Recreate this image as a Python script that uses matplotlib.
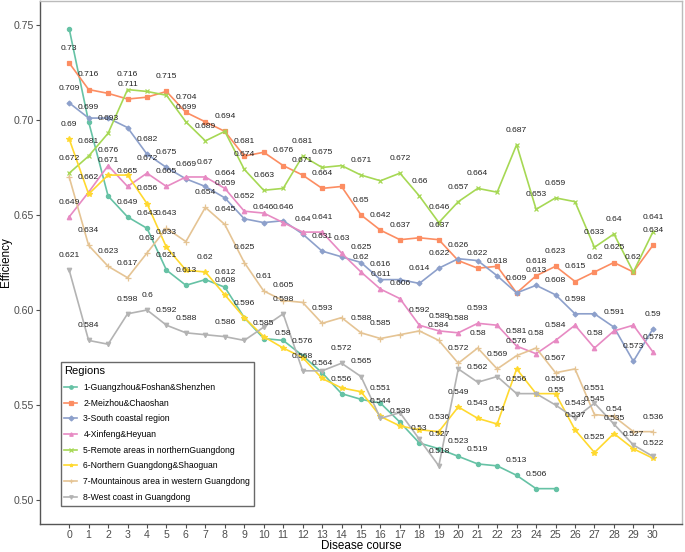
import matplotlib
matplotlib.use("Agg")
import matplotlib.pyplot as plt

plt.rcParams['font.family'] = ['Liberation Sans', 'DejaVu Sans']

course = list(range(31))

regions = [
    "1-Guangzhou&Foshan&Shenzhen",
    "2-Meizhou&Chaoshan",
    "3-South coastal region",
    "4-Xinfeng&Heyuan",
    "5-Remote areas in northernGuangdong",
    "6-Northern Guangdong&Shaoguan",
    "7-Mountainous area in western Guangdong",
    "8-West coast in Guangdong",
]

guangzhou = [0.748, 0.699, 0.660, 0.649, 0.643, 0.621, 0.613, 0.616, 0.612, 0.596,
             0.585, 0.584, 0.576, 0.567, 0.556, 0.553, 0.551, 0.541, 0.530, 0.527,
             0.523, 0.519, 0.518, 0.513, 0.506, 0.506]
meizhou = [0.730, 0.716, 0.714, 0.711, 0.712, 0.715, 0.704, 0.699, 0.694, 0.681,
           0.683, 0.676, 0.671, 0.664, 0.665, 0.650, 0.642, 0.637, 0.638, 0.637,
           0.626, 0.622, 0.623, 0.609, 0.618, 0.623, 0.615, 0.620, 0.625, 0.620, 0.634]
south_coast = [0.709, 0.701, 0.701, 0.696, 0.682, 0.675, 0.669, 0.665, 0.659, 0.648,
               0.646, 0.647, 0.640, 0.631, 0.628, 0.625, 0.616, 0.616, 0.614, 0.622,
               0.627, 0.626, 0.618, 0.609, 0.613, 0.608, 0.598, 0.598, 0.591, 0.573, 0.590]
xinfeng = [0.649, 0.662, 0.676, 0.665, 0.672, 0.665, 0.670, 0.670, 0.664, 0.652,
           0.651, 0.646, 0.641, 0.641, 0.630, 0.620, 0.611, 0.606, 0.592, 0.589,
           0.588, 0.593, 0.592, 0.581, 0.577, 0.584, 0.592, 0.580, 0.589, 0.592, 0.578]
remote_north = [0.672, 0.681, 0.693, 0.716, 0.715, 0.713, 0.699, 0.689, 0.694, 0.674,
                0.663, 0.664, 0.681, 0.675, 0.676, 0.671, 0.668, 0.672, 0.660, 0.646,
                0.657, 0.664, 0.662, 0.687, 0.653, 0.659, 0.657, 0.633, 0.640, 0.620, 0.641]
shaoguan = [0.690, 0.661, 0.671, 0.671, 0.656, 0.633, 0.621, 0.620, 0.608, 0.596,
            0.586, 0.580, 0.575, 0.564, 0.559, 0.557, 0.544, 0.539, 0.537, 0.536,
            0.549, 0.543, 0.540, 0.569, 0.556, 0.556, 0.537, 0.525, 0.535, 0.527, 0.522]
mountain_west = [0.670, 0.634, 0.623, 0.617, 0.630, 0.643, 0.636, 0.654, 0.645, 0.625,
                 0.610, 0.605, 0.604, 0.593, 0.596, 0.588, 0.585, 0.587, 0.589, 0.584,
                 0.572, 0.580, 0.569, 0.576, 0.580, 0.567, 0.569, 0.545, 0.544, 0.536, 0.536]
west_coast = [0.621, 0.584, 0.582, 0.598, 0.600, 0.592, 0.588, 0.587, 0.586, 0.584,
              0.591, 0.598, 0.568, 0.568, 0.572, 0.565, 0.543, 0.546, 0.532, 0.518,
              0.569, 0.562, 0.565, 0.556, 0.556, 0.550, 0.543, 0.551, 0.540, 0.529, 0.523]

series = [guangzhou, meizhou, south_coast, xinfeng, remote_north, shaoguan, mountain_west, west_coast]

# which points carry a value label (others were hidden by label repelling)
labelled = [
    [1, 3, 4, 5, 6, 8, 9, 10, 12, 14, 16, 18, 19, 20, 21, 23, 24],
    [0, 1, 3, 5, 6, 8, 9, 11, 12, 13, 15, 16, 17, 19, 20, 21, 23, 24, 25, 26, 27, 28, 29, 30],
    [0, 4, 5, 6, 8, 10, 12, 13, 15, 16, 18, 19, 22, 24, 25, 26, 28, 29, 30],
    [0, 1, 2, 3, 4, 5, 7, 8, 9, 11, 13, 14, 15, 16, 17, 18, 19, 20, 21, 23, 25, 27, 30],
    [0, 1, 2, 3, 6, 7, 9, 10, 12, 13, 15, 17, 18, 19, 20, 21, 23, 24, 25, 27, 28, 30],
    [0, 2, 4, 5, 7, 8, 11, 13, 16, 17, 19, 20, 21, 22, 25, 26, 27, 28, 29, 30],
    [1, 2, 3, 4, 5, 7, 8, 9, 10, 11, 13, 15, 16, 19, 20, 21, 22, 23, 24, 25, 27, 30],
    [0, 1, 3, 4, 5, 6, 8, 11, 12, 14, 15, 19, 21, 23, 25, 26, 27, 28],
]

colors = ["#66C2A5", "#FC8D62", "#8DA0CB", "#E78AC3", "#A6D854", "#FFD92F", "#E5C494", "#B3B3B3"]
markers = ["o", "s", "D", "^", "x", "*", "+", "v"]
msizes = [3.0, 3.0, 2.5, 3.2, 3.2, 4.0, 3.8, 3.2]

y_ticks = [0.50, 0.55, 0.60, 0.65, 0.70, 0.75]


def fmt(v):
    s = f"{v:.3f}".rstrip("0").rstrip(".")
    return s


fig = plt.figure(figsize=(6.85, 5.52), dpi=100)
ax = fig.add_axes([40 / 685, 28 / 552, 642 / 685, 523 / 552])

for vals, lab, col, mk, ms, idxs in zip(series, regions, colors, markers, msizes, labelled):
    xs = course[:len(vals)]
    ax.plot(xs, vals, color=col, lw=1.2, marker=mk, markersize=ms,
            markeredgewidth=0.9, label=lab)
    for i in idxs:
        ax.annotate(fmt(vals[i]), (xs[i], vals[i]), xytext=(0, 8), textcoords="offset points",
                    ha="center", va="bottom", fontsize=6.1, color="#222222")

ax.set_xlim(-1.5, 31.5)
ax.set_ylim(0.4874, 0.7626)
ax.set_xticks(course)
ax.set_xticklabels([str(c) for c in course])
ax.set_yticks(y_ticks)
ax.set_yticklabels([f"{t:.2f}" for t in y_ticks])
ax.tick_params(axis="both", labelsize=7.6, colors="#4D4D4D", length=3, width=0.8, pad=1.5)

for side in ["left", "bottom"]:
    ax.spines[side].set_color("#555555")
    ax.spines[side].set_linewidth(1.0)
for side in ["top", "right"]:
    ax.spines[side].set_color("#BBBBBB")
    ax.spines[side].set_linewidth(1.0)

ax.set_xlabel("Disease course", fontsize=8.4, color="black", labelpad=0)
ax.set_ylabel("Efficiency", fontsize=8.4, color="black", labelpad=1)

leg = ax.legend(title="Regions", loc="lower left", bbox_to_anchor=(0.032, 0.035),
                borderaxespad=0, fontsize=6.2, title_fontsize=8, frameon=True,
                fancybox=False, edgecolor="#444444", handlelength=1.5,
                handletextpad=0.7, labelspacing=0.78, borderpad=0.45,
                alignment="left")
leg.get_frame().set_linewidth(1.0)
for h in leg.legend_handles:
    h.set_markersize(2.5)

fig.savefig("out.png", dpi=100)
